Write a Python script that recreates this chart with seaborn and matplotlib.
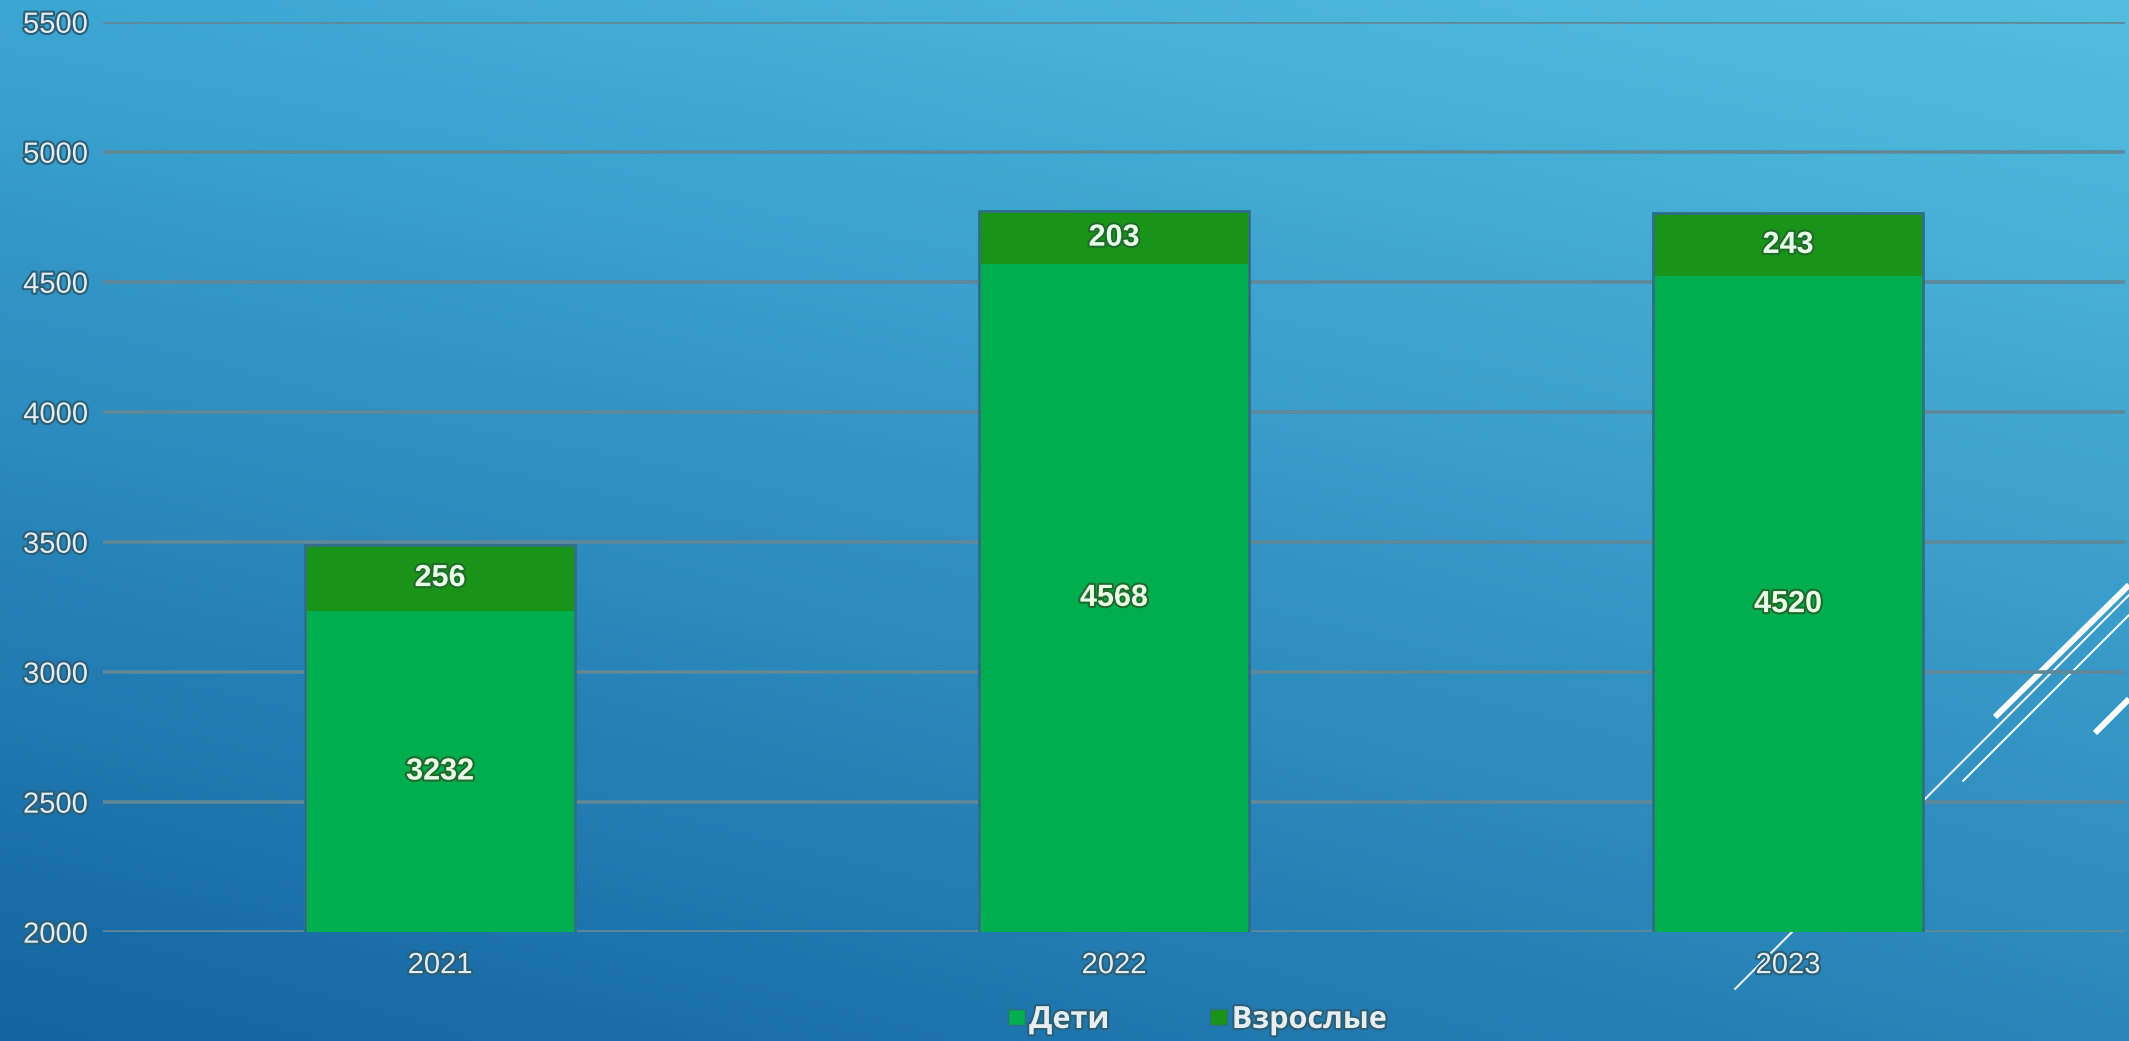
import numpy as np
import matplotlib
matplotlib.use("Agg")
import matplotlib.pyplot as plt
import matplotlib.patheffects as pe
from matplotlib.patches import Patch
import seaborn as sns

years = ["2021", "2022", "2023"]
deti = [3232, 4568, 4520]
vzroslye = [256, 203, 243]
yticks = [2000, 2500, 3000, 3500, 4000, 4500, 5000, 5500]

c_deti = "#00ae50"
c_vzr = "#199418"

sns.set_style("white")
plt.rcParams["font.family"] = ["Liberation Sans", "DejaVu Sans"]

W, H = 2129, 1041
fig = plt.figure(figsize=(W / 100, H / 100), dpi=100)

# фон слайда: градиент + декоративные линии
bg = fig.add_axes([0, 0, 1, 1], zorder=-1)
tl = np.array([60, 166, 211]) / 255
tr = np.array([83, 190, 224]) / 255
bl = np.array([19, 100, 160]) / 255
br = np.array([42, 134, 186]) / 255
u = np.linspace(0, 1, 200)[None, :, None]
v = np.linspace(0, 1, 100)[:, None, None]
grad = (1 - v) * ((1 - u) * tl + u * tr) + v * ((1 - u) * bl + u * br)
bg.imshow(grad, extent=[0, W, H, 0], aspect="auto", interpolation="bilinear")
bg.plot([1735, 2129], [989, 595], color="white", lw=1.4)
bg.plot([1963, 2129], [781, 615], color="white", lw=1.4)
bg.plot([1995, 2129], [717, 585], color="white", lw=4.3, solid_capstyle="butt")
bg.plot([2095, 2129], [733, 699], color="white", lw=4.3, solid_capstyle="butt")
bg.set_xlim(0, W)
bg.set_ylim(H, 0)
bg.axis("off")

ax = fig.add_axes([103 / W, 1 - 931.7 / H, (2125 - 103) / W, (931.7 - 21.7) / H])
ax.patch.set_alpha(0)

totals = [d + v_ for d, v_ in zip(deti, vzroslye)]
sns.barplot(x=years, y=totals, color=c_vzr, saturation=1, width=0.4,
            linewidth=0, ax=ax, zorder=2)
sns.barplot(x=years, y=deti, color=c_deti, saturation=1, width=0.4,
            linewidth=0, ax=ax, zorder=2)
sns.barplot(x=years, y=totals, fill=False, edgecolor="#2f6f86", width=0.4,
            linewidth=2, ax=ax, zorder=3)

ax.set_ylim(2000, 5500)
ax.set_yticks(yticks)
ax.set_xlim(-0.5, 2.5)
ax.yaxis.grid(True, color="#5f8898", lw=2.6, zorder=0)
ax.set_axisbelow(True)
for s in ax.spines.values():
    s.set_visible(False)
ax.tick_params(length=0, labelsize=21, labelcolor="#e4ecef")
ax.tick_params(axis="y", pad=11)
ax.tick_params(axis="x", pad=14)
ax.set_xlabel("")
ax.set_ylabel("")
glow = [pe.withStroke(linewidth=3, foreground="#2a5f78")]
for t in ax.get_xticklabels() + ax.get_yticklabels():
    t.set_path_effects(glow)

lo = ax.get_ylim()[0]
lab_glow = [pe.withStroke(linewidth=3, foreground="#1f6b2a")]
for i in range(len(years)):
    ax.text(i, (lo + deti[i]) / 2, str(deti[i]), ha="center", va="center",
            fontsize=22, fontweight="bold", color="#e8ffe8", path_effects=lab_glow, zorder=5)
    ax.text(i, deti[i] + vzroslye[i] / 2, str(vzroslye[i]), ha="center", va="center",
            fontsize=22, fontweight="bold", color="#e8ffe8", path_effects=lab_glow, zorder=5)

handles = [Patch(facecolor=c_deti, edgecolor="#2f6f86", label="Дети"),
           Patch(facecolor=c_vzr, edgecolor="#2f6f86", label="Взрослые")]
leg = fig.legend(handles=handles, loc="center", bbox_to_anchor=(1197 / W, 1 - 1020 / H),
                 ncol=2, frameon=False, handlelength=0.55, handleheight=0.45,
                 handletextpad=0.15, columnspacing=3.3,
                 prop={"family": ["Open Sans", "DejaVu Sans"], "weight": "bold", "size": 22})
for t in leg.get_texts():
    t.set_color("#e8eef0")
    t.set_path_effects(glow)

fig.savefig("out.png", dpi=100)
